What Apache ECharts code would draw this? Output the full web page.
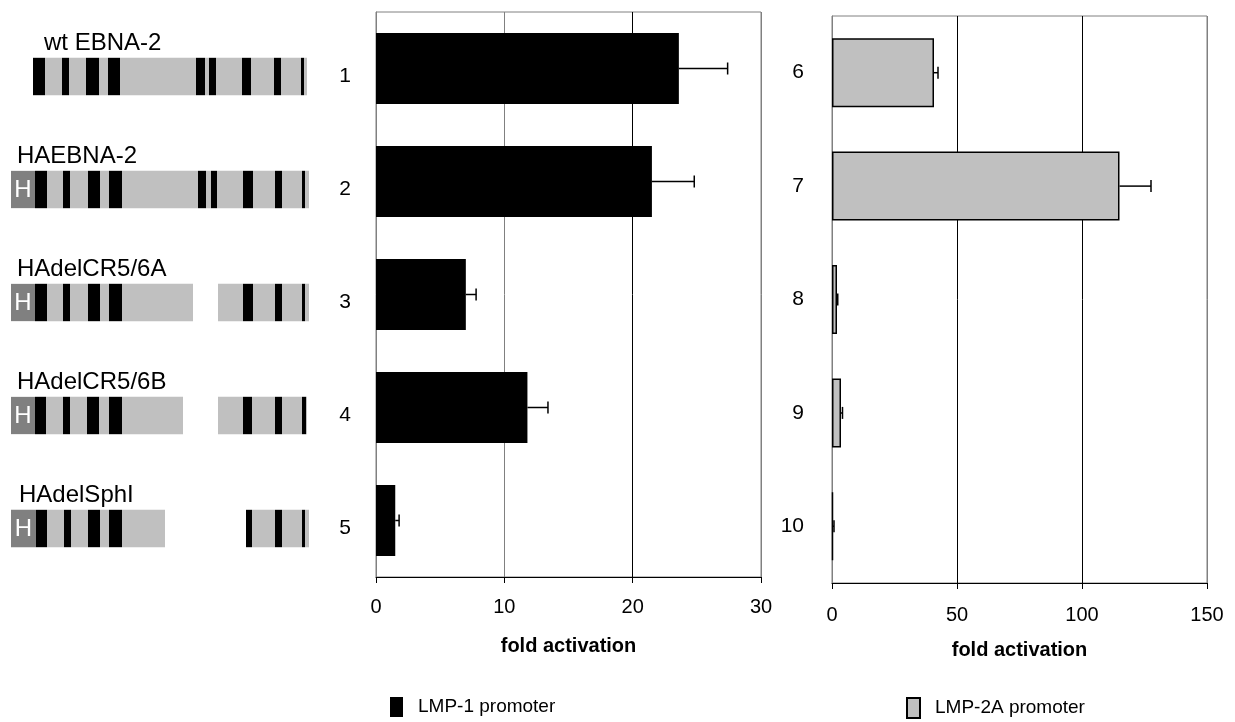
<!DOCTYPE html>
<html>
<head>
    <meta charset="utf-8">
    <script src="https://cdn.jsdelivr.net/npm/echarts@6/dist/echarts.min.js"></script>
    <title>EBNA-2 deletion mutants</title>
</head>
<body style="margin:0">
    <div id="main" style="width:1235px; height:722px;"></div>
    <script type="text/javascript">
        // bar chart values
        var lanes1 = ['1', '2', '3', '4', '5'];
        var lmp1 = [23.6, 21.5, 7.0, 11.8, 1.5];
        var lmp1Err = [3.8, 3.3, 0.8, 1.6, 0.3];
        var lanes2 = ['6', '7', '8', '9', '10'];
        var lmp2a = [40.8, 115, 2.0, 3.6, 0.4];
        var lmp2aErr = [1.6, 12.6, 0.3, 0.6, 0.4];
        var ticks1 = [0, 30, 10];
        var ticks2 = [0, 150, 50];

        // construct schematics, positions in arbitrary units along the protein
        var constructs = ['wt EBNA-2', 'HAEBNA-2', 'HAdelCR5/6A', 'HAdelCR5/6B', 'HAdelSphI'];
        var nameStart = [33, 6, 6, 6, 8];
        var hTag = [null, [0, 24], [0, 24], [0, 24], [0, 25]];
        var grayRuns = [
            [[22, 296]],
            [[24, 298]],
            [[24, 182], [207, 298]],
            [[24, 172], [207, 296]],
            [[25, 154], [235, 298]]
        ];
        var blackRuns = [
            [[22, 34], [51, 58], [75, 88], [97, 109], [185, 194], [198, 205], [231, 240], [263, 270], [290, 293]],
            [[24, 36], [52, 59], [77, 89], [98, 111], [187, 195], [200, 206], [232, 242], [264, 271], [291, 294]],
            [[24, 36], [52, 59], [77, 89], [98, 111], [232, 242], [264, 271], [291, 294]],
            [[24, 35], [52, 59], [76, 88], [98, 111], [232, 241], [264, 271], [291, 295]],
            [[25, 36], [53, 60], [77, 89], [98, 111], [235, 241], [264, 271], [291, 294]]
        ];

        var FONT = 'Liberation Sans, Arial, sans-serif';

        // kind: 0 gray, 1 black, 2 HA tag
        var segData = [];
        for (var i = 0; i < constructs.length; i++) {
            grayRuns[i].forEach(function (r) { segData.push([i, r[0], r[1], 0]); });
            blackRuns[i].forEach(function (r) { segData.push([i, r[0], r[1], 1]); });
            if (hTag[i]) segData.push([i, hTag[i][0], hTag[i][1], 2]);
        }
        var nameData = constructs.map(function (c, i) { return [i, nameStart[i]]; });
        var err1 = lmp1.map(function (v, i) { return [i, v, lmp1Err[i]]; });
        var err2 = lmp2a.map(function (v, i) { return [i, v, lmp2aErr[i]]; });

        function renderSeg(params, api) {
            var row = api.value(0);
            var a = api.coord([api.value(1), row]);
            var b = api.coord([api.value(2), row]);
            var h = api.size([0, 1])[1] * 0.33;
            var kind = api.value(3);
            var col = kind === 1 ? '#000000' : (kind === 2 ? '#808080' : '#c0c0c0');
            var rect = {
                type: 'rect',
                shape: { x: a[0], y: a[1] - h / 2 + 2, width: b[0] - a[0], height: h },
                style: { fill: col }
            };
            if (kind !== 2) return rect;
            return {
                type: 'group',
                children: [rect, {
                    type: 'text',
                    style: {
                        text: 'H', x: (a[0] + b[0]) / 2, y: a[1] + 3,
                        fill: '#ffffff', font: '24px ' + FONT,
                        align: 'center', verticalAlign: 'middle'
                    }
                }]
            };
        }

        function renderName(params, api) {
            var p = api.coord([api.value(1), api.value(0)]);
            return {
                type: 'text',
                style: {
                    text: constructs[params.dataIndex], x: p[0], y: p[1] - 31,
                    fill: '#000', font: '24px ' + FONT,
                    align: 'left', verticalAlign: 'middle'
                }
            };
        }

        function renderErr(params, api) {
            var cat = api.value(0), v = api.value(1), e = api.value(2);
            var p0 = api.coord([v, cat]);
            var p1 = api.coord([v + e, cat]);
            return {
                type: 'group',
                children: [
                    { type: 'line', shape: { x1: p0[0], y1: p0[1], x2: p1[0], y2: p1[1] }, style: { stroke: '#000', lineWidth: 1.5 } },
                    { type: 'line', shape: { x1: p1[0], y1: p1[1] - 6, x2: p1[0], y2: p1[1] + 6 }, style: { stroke: '#000', lineWidth: 1.5 } }
                ]
            };
        }

        function valueAxis(idx, ticks, lineCols, labelMargin, nameGap) {
            return {
                type: 'value', gridIndex: idx,
                min: ticks[0], max: ticks[1], interval: ticks[2],
                axisLine: { show: true, lineStyle: { color: '#000', width: 1 } },
                axisTick: { show: true, length: 6, lineStyle: { color: '#000' } },
                axisLabel: { color: '#000', fontSize: 20, fontFamily: FONT, margin: labelMargin },
                splitLine: { show: true, lineStyle: { color: lineCols, width: 1 } },
                name: 'fold activation', nameLocation: 'middle', nameGap: nameGap,
                nameTextStyle: { color: '#000', fontSize: 20, fontWeight: 'bold', fontFamily: FONT }
            };
        }

        function catAxis(idx, cats, margin, shift) {
            var lab = { color: '#000', fontSize: 21, fontFamily: FONT, margin: margin };
            if (shift) {
                lab.verticalAlign = 'top';
                lab.lineHeight = shift;
            }
            return {
                type: 'category', gridIndex: idx, data: cats, inverse: true,
                axisLine: { show: true, lineStyle: { color: '#808080' } },
                axisTick: { show: false },
                axisLabel: lab
            };
        }

        var myChart = echarts.init(document.getElementById('main'));
        var option = {
            backgroundColor: '#ffffff',
            animation: false,
            grid: [
                { left: 376, right: 474, top: 12, bottom: 145, show: true, borderColor: '#808080', borderWidth: 1 },
                { left: 832, right: 28, top: 16, bottom: 139, show: true, borderColor: '#808080', borderWidth: 1 },
                { left: 11, width: 300, top: 18, height: 565 }
            ],
            xAxis: [
                valueAxis(0, ticks1, ['#808080', '#808080', '#000', '#808080'], 20, 59),
                valueAxis(1, ticks2, ['#808080', '#000', '#000', '#808080'], 22, 57),
                { type: 'value', gridIndex: 2, min: 0, max: 300, show: false }
            ],
            yAxis: [
                catAxis(0, lanes1, 25, 16),
                catAxis(1, lanes2, 28, 0),
                { type: 'category', gridIndex: 2, data: constructs, inverse: true, show: false }
            ],
            legend: [
                {
                    data: ['LMP-1 promoter'], left: 390, top: 697, icon: 'rect', padding: 0,
                    itemWidth: 13, itemHeight: 20, selectedMode: false,
                    textStyle: { color: '#000', fontSize: 19, fontFamily: FONT, padding: [0, 0, 0, 10] }
                },
                {
                    data: ['LMP-2A promoter'], left: 906, top: 697, icon: 'rect', padding: 0,
                    itemWidth: 13, itemHeight: 20, selectedMode: false,
                    textStyle: { color: '#000', fontSize: 19, fontFamily: FONT, padding: [0, 0, 0, 10] }
                }
            ],
            series: [
                {
                    name: 'LMP-1 promoter', type: 'bar', xAxisIndex: 0, yAxisIndex: 0,
                    data: lmp1, barWidth: 71,
                    itemStyle: { color: '#000000' }
                },
                {
                    name: 'LMP-2A promoter', type: 'bar', xAxisIndex: 1, yAxisIndex: 1,
                    data: lmp2a, barWidth: 69,
                    itemStyle: { color: '#c0c0c0', borderColor: '#000', borderWidth: 1.5 }
                },
                {
                    type: 'custom', xAxisIndex: 0, yAxisIndex: 0, renderItem: renderErr,
                    data: err1, encode: { x: [1, 2], y: 0 }, z: 5
                },
                {
                    type: 'custom', xAxisIndex: 1, yAxisIndex: 1, renderItem: renderErr,
                    data: err2, encode: { x: [1, 2], y: 0 }, z: 5
                },
                {
                    type: 'custom', xAxisIndex: 2, yAxisIndex: 2, renderItem: renderSeg,
                    data: segData, encode: { x: [1, 2], y: 0 }
                },
                {
                    type: 'custom', xAxisIndex: 2, yAxisIndex: 2, renderItem: renderName,
                    data: nameData, encode: { x: 1, y: 0 }
                }
            ]
        };
        myChart.setOption(option);
    </script>
</body>
</html>
